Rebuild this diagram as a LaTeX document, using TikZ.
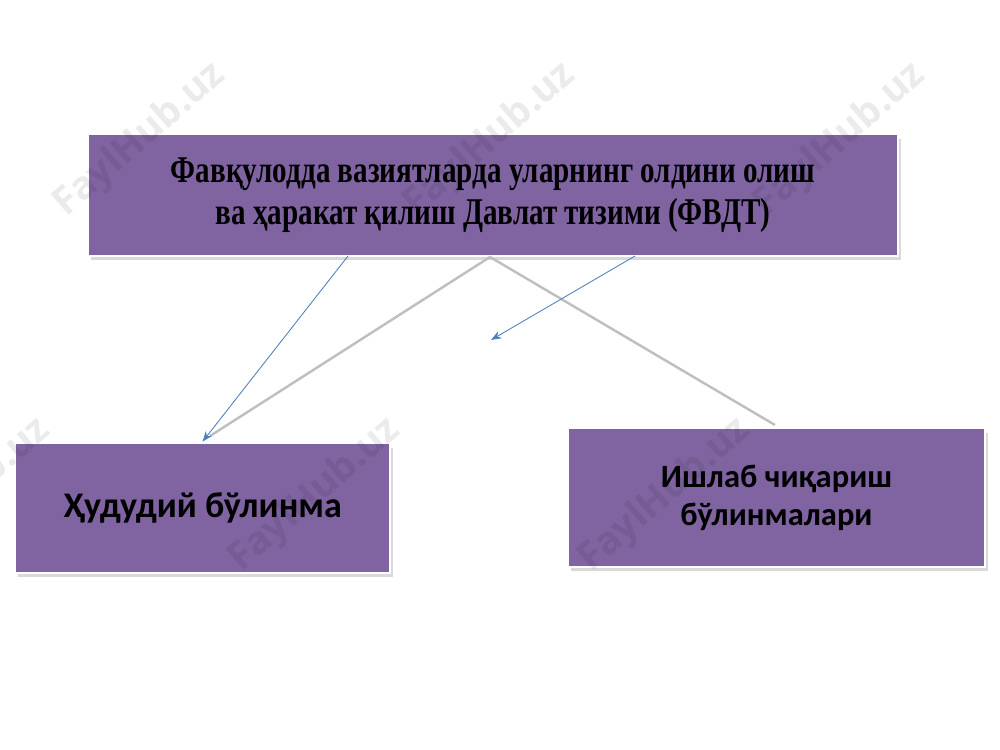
\documentclass[tikz,border=0pt]{standalone}
\usepackage{fontspec}
\setmainfont{Liberation Serif}
\newfontfamily\headfont[FakeStretch=0.77]{Liberation Serif}
\newfontfamily\boxfont{Carlito}
\newfontfamily\markfont{Open Sans}
\usetikzlibrary{arrows.meta,shadows,positioning}

\definecolor{boxpurple}{HTML}{8064A2}
\definecolor{linkblue}{HTML}{4F81BD}
\definecolor{fangray}{HTML}{BFBFBF}

\tikzset{
  unitbox/.style={rectangle, fill=boxpurple, draw=white, line width=1.5pt,
    drop shadow={shadow xshift=0.6mm, shadow yshift=-0.9mm, opacity=0.3},
    align=center, inner sep=0pt},
  fanline/.style={draw=fangray, line width=1.4pt},
  bluearrow/.style={draw=linkblue, line width=0.5pt, -{Stealth[length=6pt,width=4.5pt]}},
  watermark/.style={text=black, text opacity=0.08, font=\markfont\bfseries\fontsize{22}{22}\selectfont, rotate=41}
}

\begin{document}
\begin{tikzpicture}[x=0.02cm, y=-0.02cm]
  \useasboundingbox (0,0) rectangle (1000,750);

  % boxes
  \node[unitbox, minimum width=16.2cm, minimum height=2.44cm,
    font=\headfont\bfseries\fontsize{21.5}{24}\selectfont] (top) at (493,195)
    {Фавқулодда вазиятларда уларнинг олдини олиш\\
     ва ҳаракат қилиш Давлат тизими (ФВДТ)};
  \node[unitbox, minimum width=7.5cm, minimum height=2.6cm,
    font=\boxfont\bfseries\fontsize{20.5}{24}\selectfont] (region) at (202.5,508)
    {\raisebox{-2pt}{Ҳудудий бўлинма}};
  \node[unitbox, minimum width=8.34cm, minimum height=2.78cm,
    font=\boxfont\bfseries\fontsize{18.5}{21.5}\selectfont] (plant) at (776.5,497.5)
    {Ишлаб чиқариш\\ бўлинмалари};

  % free ends
  \coordinate (apex) at (490,257);
  \coordinate (ltip) at (210,436);
  \coordinate (rtip) at (775,425);
  \coordinate (b1) at (348,256);
  \coordinate (b2) at (635,256);
  \coordinate (bend) at (491,340);

  % gray fan
  \path (apex) edge [fanline] (ltip);
  \path (apex) edge [fanline] (rtip);

  % blue arrows
  \path (b1) edge [bluearrow] (region.north);
  \path (b2) edge [bluearrow] (bend);

  % watermark
  \foreach \wx/\wy [count=\i] in {140/140, 490/140, 840/140, -35/495, 315/495, 665/495}
    \node[watermark] (mark\i) at (\wx,\wy) {FaylHub.uz};
\end{tikzpicture}
\end{document}
